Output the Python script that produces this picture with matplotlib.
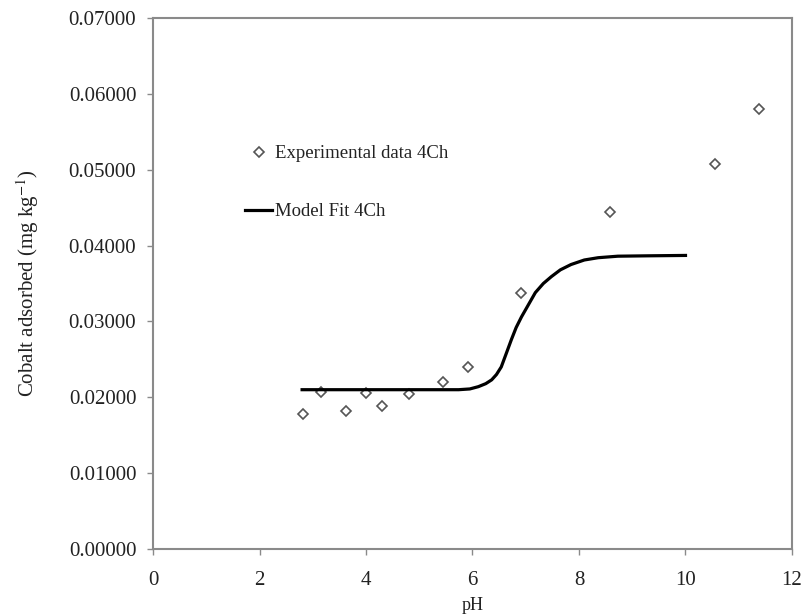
import matplotlib
matplotlib.use("Agg")
import matplotlib.pyplot as plt

plt.rcParams['font.family'] = ['Liberation Serif', 'DejaVu Serif']
plt.rcParams['mathtext.fontset'] = 'stix'

# Experimental data
ph_exp = [2.82, 3.16, 3.63, 4.00, 4.30, 4.80, 5.44, 5.91, 6.92, 8.58, 10.56, 11.38]
co_exp = [0.01783, 0.02074, 0.01823, 0.02060, 0.01889, 0.02047, 0.02206, 0.02400,
          0.03380, 0.04440, 0.05080, 0.05800]

# Model fit curve
ph_fit = [2.80, 4.00, 5.00, 5.74, 5.95, 6.11, 6.25, 6.36, 6.45, 6.54, 6.63, 6.73,
          6.82, 6.92, 7.05, 7.18, 7.33, 7.48, 7.65, 7.85, 8.10, 8.36, 8.73, 9.30, 10.00]
co_fit = [0.02100, 0.02100, 0.02100, 0.02100, 0.02110, 0.02140, 0.02180, 0.02230, 0.02300,
          0.02400, 0.02570, 0.02760, 0.02920, 0.03060, 0.03220, 0.03380, 0.03500, 0.03590,
          0.03680, 0.03750, 0.03810, 0.03840, 0.03860, 0.03865, 0.03870]

xticks = [0, 2, 4, 6, 8, 10, 12]
yticks = [0.0, 0.01, 0.02, 0.03, 0.04, 0.05, 0.06, 0.07]

fig = plt.figure(figsize=(8.03, 6.14), dpi=100)
ax = fig.add_axes([153/803, 1-549/614, (792-153)/803, (549-18)/614])

ax.plot(ph_exp, co_exp, linestyle='none', marker='D', markersize=5.5,
        markerfacecolor='white', markeredgecolor='#555555', markeredgewidth=1.2,
        label='Experimental data 4Ch')
ax.plot(ph_fit, co_fit, color='black', linewidth=2.3, label='Model Fit 4Ch')

ax.set_xlim(0, 12)
ax.set_ylim(0, 0.07)
ax.set_xticks(xticks)
ax.set_xticklabels([str(t) for t in xticks])
ax.set_yticks(yticks)
ax.set_yticklabels([f"{t:.5f}" for t in yticks])

for s in ax.spines.values():
    s.set_color('#8a8a8a')
    s.set_linewidth(1.5)
ax.tick_params(direction='out', length=4, width=1, color='#8a8a8a',
               labelsize=15, labelcolor='#222222')
ax.tick_params(axis='x', pad=12)
ax.tick_params(axis='y', pad=8)

ax.set_xlabel('pH', fontsize=13, color='#222222', labelpad=5)
ax.set_ylabel('Cobalt adsorbed (mg kg$^{-1}$)', fontsize=15, color='#222222', labelpad=20)

leg = ax.legend(loc='upper left', bbox_to_anchor=(245/803, 1-145/614),
                bbox_transform=fig.transFigure, frameon=False, fontsize=13.5,
                labelspacing=2.2, handlelength=1.45, handletextpad=0.15,
                borderpad=0, borderaxespad=0)
for t in leg.get_texts():
    t.set_color('#222222')

fig.savefig('out.png', dpi=100)
